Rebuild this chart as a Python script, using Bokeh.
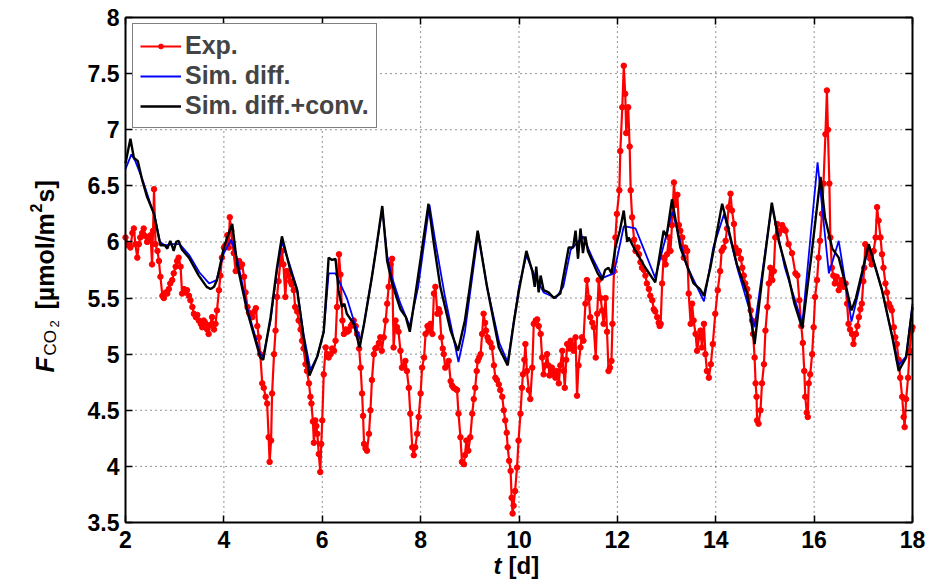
import math
from bokeh.plotting import figure
from bokeh.models import (LinearAxis, Range1d, Legend, LegendItem, Label, FixedTicker)
from bokeh.embed import file_html
from bokeh.resources import INLINE

# ---------------- data ----------------
exp_t = [2.00, 2.06, 2.10, 2.14, 2.17, 2.20, 2.24, 2.27, 2.30, 2.34, 2.37, 2.41, 2.44, 2.48, 2.51, 2.54, 2.56, 2.58,
         2.61, 2.65, 2.68, 2.71, 2.75, 2.78, 2.82, 2.85, 2.88, 2.91, 2.95, 2.98, 3.02, 3.05, 3.08, 3.12, 3.15, 3.19,
         3.22, 3.25, 3.29, 3.32, 3.36, 3.39, 3.43, 3.46, 3.49, 3.53, 3.56, 3.59, 3.62, 3.66, 3.69, 3.72, 3.76, 3.80,
         3.83, 3.86, 3.90, 3.93, 3.96, 4.00, 4.03, 4.07, 4.10, 4.12, 4.15, 4.17, 4.20, 4.24, 4.27, 4.31, 4.34, 4.37,
         4.41, 4.44, 4.48, 4.51, 4.55, 4.58, 4.62, 4.65, 4.68, 4.71, 4.74, 4.78, 4.81, 4.85, 4.88, 4.91, 4.93, 4.96,
         4.98, 5.02, 5.05, 5.08, 5.11, 5.15, 5.18, 5.21, 5.25, 5.28, 5.31, 5.35, 5.38, 5.42, 5.45, 5.49, 5.52, 5.56,
         5.59, 5.62, 5.66, 5.69, 5.73, 5.76, 5.78, 5.81, 5.83, 5.86, 5.88, 5.90, 5.93, 5.96, 5.98, 6.00, 6.03, 6.07,
         6.10, 6.13, 6.17, 6.20, 6.24, 6.27, 6.30, 6.34, 6.37, 6.41, 6.44, 6.48, 6.51, 6.54, 6.58, 6.61, 6.64, 6.68,
         6.71, 6.75, 6.78, 6.81, 6.83, 6.85, 6.88, 6.91, 6.95, 6.98, 7.01, 7.05, 7.08, 7.11, 7.15, 7.18, 7.21, 7.25,
         7.29, 7.32, 7.35, 7.39, 7.42, 7.45, 7.49, 7.52, 7.55, 7.59, 7.62, 7.66, 7.69, 7.72, 7.76, 7.79, 7.83, 7.86,
         7.89, 7.93, 7.96, 8.00, 8.03, 8.07, 8.10, 8.14, 8.17, 8.20, 8.24, 8.27, 8.30, 8.34, 8.37, 8.39, 8.42, 8.45,
         8.47, 8.50, 8.54, 8.57, 8.61, 8.64, 8.67, 8.71, 8.74, 8.77, 8.81, 8.84, 8.88, 8.90, 8.93, 8.97, 9.01, 9.05,
         9.08, 9.11, 9.14, 9.16, 9.19, 9.22, 9.25, 9.28, 9.31, 9.33, 9.36, 9.38, 9.42, 9.45, 9.49, 9.52, 9.55, 9.59,
         9.62, 9.66, 9.69, 9.72, 9.75, 9.77, 9.80, 9.83, 9.85, 9.87, 9.89, 9.92, 9.96, 9.99, 10.03, 10.06, 10.08,
         10.11, 10.13, 10.16, 10.20, 10.23, 10.27, 10.30, 10.34, 10.37, 10.40, 10.44, 10.47, 10.50, 10.54, 10.57,
         10.60, 10.62, 10.65, 10.67, 10.71, 10.74, 10.77, 10.81, 10.84, 10.88, 10.91, 10.93, 10.96, 10.98, 11.02,
         11.05, 11.08, 11.11, 11.15, 11.18, 11.21, 11.25, 11.28, 11.31, 11.35, 11.38, 11.42, 11.45, 11.49, 11.52,
         11.56, 11.59, 11.62, 11.66, 11.69, 11.72, 11.76, 11.79, 11.82, 11.85, 11.88, 11.90, 11.93, 11.96, 11.99,
         12.04, 12.06, 12.10, 12.13, 12.16, 12.18, 12.22, 12.25, 12.27, 12.30, 12.34, 12.37, 12.41, 12.44, 12.47,
         12.50, 12.54, 12.57, 12.60, 12.64, 12.67, 12.71, 12.74, 12.77, 12.81, 12.84, 12.86, 12.88, 12.91, 12.94,
         12.98, 13.01, 13.05, 13.08, 13.11, 13.15, 13.18, 13.22, 13.25, 13.28, 13.32, 13.35, 13.38, 13.42, 13.45,
         13.49, 13.52, 13.55, 13.59, 13.62, 13.66, 13.69, 13.72, 13.76, 13.79, 13.82, 13.86, 13.90, 13.94, 13.99,
         14.04, 14.09, 14.12, 14.16, 14.20, 14.23, 14.26, 14.30, 14.33, 14.37, 14.40, 14.44, 14.47, 14.51, 14.54,
         14.57, 14.60, 14.64, 14.67, 14.71, 14.74, 14.76, 14.79, 14.81, 14.83, 14.84, 14.87, 14.91, 14.94, 14.98,
         15.01, 15.05, 15.08, 15.11, 15.15, 15.18, 15.21, 15.25, 15.28, 15.31, 15.35, 15.38, 15.42, 15.48, 15.55,
         15.62, 15.66, 15.70, 15.74, 15.77, 15.80, 15.82, 15.85, 15.87, 15.89, 15.92, 15.96, 15.99, 16.02, 16.06,
         16.09, 16.12, 16.16, 16.19, 16.23, 16.26, 16.28, 16.31, 16.33, 16.36, 16.39, 16.42, 16.46, 16.50, 16.53,
         16.56, 16.60, 16.64, 16.67, 16.70, 16.73, 16.77, 16.80, 16.85, 16.88, 16.91, 16.94, 16.97, 17.00, 17.02,
         17.04, 17.08, 17.11, 17.14, 17.17, 17.21, 17.25, 17.28, 17.31, 17.35, 17.38, 17.41, 17.45, 17.48, 17.52,
         17.55, 17.58, 17.62, 17.65, 17.68, 17.72, 17.75, 17.79, 17.82, 17.84, 17.87, 17.91, 17.94, 17.98, 18.00]
exp_v = [6.04, 5.97, 5.95, 6.08, 6.12, 5.98, 5.86, 5.98, 6.04, 6.08, 6.12, 6.05, 6.00, 6.02, 6.06, 5.80, 6.10, 6.47,
         5.98, 5.92, 5.83, 5.69, 5.52, 5.50, 5.55, 5.54, 5.58, 5.63, 5.66, 5.72, 5.78, 5.83, 5.86, 5.78, 5.54, 5.58,
         5.55, 5.57, 5.52, 5.48, 5.42, 5.36, 5.33, 5.35, 5.30, 5.27, 5.24, 5.30, 5.28, 5.22, 5.18, 5.26, 5.33, 5.22,
         5.27, 5.39, 5.57, 5.70, 5.86, 5.95, 5.97, 6.06, 5.95, 6.22, 6.10, 6.00, 5.90, 5.74, 5.80, 5.83, 5.78, 5.80,
         5.69, 5.55, 5.42, 5.37, 5.35, 5.33, 5.38, 5.41, 5.25, 5.15, 5.00, 4.74, 4.70, 4.62, 4.56, 4.26, 4.04, 4.23,
         4.65, 5.00, 5.21, 5.51, 5.65, 5.83, 5.92, 5.80, 5.51, 5.74, 5.70, 5.65, 5.62, 5.57, 5.42, 5.38, 5.30, 5.22,
         5.12, 5.05, 4.91, 4.85, 4.74, 4.62, 4.56, 4.40, 4.21, 4.41, 4.36, 4.29, 4.11, 3.95, 4.20, 4.41, 4.82, 5.06,
         5.00, 4.97, 5.00, 5.05, 5.03, 5.12, 5.42, 5.89, 5.71, 5.30, 5.18, 5.22, 5.20, 5.21, 5.25, 5.27, 5.30, 5.25,
         5.18, 5.05, 4.88, 4.65, 4.45, 4.20, 4.16, 4.14, 4.29, 4.50, 4.77, 5.00, 5.05, 5.06, 5.10, 5.15, 5.03, 5.15,
         5.30, 5.45, 5.60, 5.80, 5.85, 5.06, 5.30, 5.24, 5.20, 5.03, 4.88, 4.90, 4.94, 4.85, 4.70, 4.47, 4.17, 4.10,
         4.17, 4.29, 4.44, 4.65, 4.88, 4.97, 5.18, 5.25, 5.21, 5.27, 5.18, 5.54, 5.60, 5.36, 5.40, 5.37, 5.15, 5.05,
         5.00, 4.88, 4.90, 4.94, 4.76, 4.72, 4.70, 4.69, 4.68, 4.47, 4.26, 4.04, 4.02, 4.10, 4.23, 4.14, 4.26, 4.47,
         4.60, 4.70, 4.85, 4.94, 4.97, 5.00, 5.18, 5.36, 5.28, 5.21, 5.15, 5.12, 5.10, 5.06, 4.90, 4.79, 4.77, 4.73,
         4.68, 4.62, 4.50, 4.41, 4.30, 4.17, 4.05, 3.96, 3.72, 3.58, 3.65, 3.78, 3.99, 4.23, 4.47, 4.70, 4.82,
         4.95, 5.09, 4.85, 4.68, 4.60, 4.88, 5.27, 5.30, 5.31, 5.25, 5.18, 4.97, 4.82, 4.90, 5.00,
         4.90, 4.81, 4.85, 4.88, 4.82, 4.79, 4.85, 4.74, 4.90, 5.03, 4.85, 4.70, 4.95, 5.09, 5.05,
         5.12, 5.08, 5.03, 5.15, 4.63, 4.90, 5.06, 5.15, 5.12, 5.45, 5.66, 5.50, 5.33, 5.28, 5.24,
         4.97, 5.36, 5.66, 5.50, 5.39, 5.27, 5.50, 5.20, 4.85, 4.88, 4.94, 5.27, 5.74, 6.04, 6.25,
         6.46, 6.81, 7.20, 7.57, 7.32, 6.97, 7.20, 6.85, 6.46, 6.22, 6.02, 5.92, 5.95, 5.89, 5.82,
         5.77, 5.75, 5.70, 5.63, 5.58, 5.52, 5.48, 5.40, 5.38, 5.33, 5.28, 5.25, 5.27, 5.63, 5.86,
         5.80, 5.89, 6.04, 5.92, 6.15, 6.53, 6.33, 6.42, 6.15, 6.10, 6.04, 5.86, 5.95, 5.92, 5.54,
         5.27, 5.45, 5.30, 5.18, 5.03, 5.15, 5.21, 5.06, 5.27, 5.00, 4.85, 4.79, 4.91, 5.09, 5.36,
         5.57, 5.74, 5.92, 5.95, 6.01, 6.12, 6.31, 6.43, 6.28, 6.16, 5.95, 5.90, 5.92, 5.85, 5.77,
         5.70, 5.63, 5.58, 5.51, 5.39, 5.30, 5.18, 4.97, 4.74, 4.62, 4.41, 4.38, 4.50, 4.74, 4.91,
         5.21, 5.42, 5.63, 5.77, 5.66, 5.74, 6.04, 6.16, 6.07, 6.10, 6.15, 6.12, 6.10, 5.98, 5.90,
         5.72, 5.70, 5.48, 5.25, 5.10, 4.85, 4.62, 4.48, 4.44, 4.74, 4.82, 5.00, 5.24, 5.51, 5.66,
         5.86, 6.01, 6.25, 6.52, 6.96, 7.35, 7.00, 6.52, 6.04, 5.77, 5.70, 5.63, 5.69, 5.57, 5.62,
         5.66, 5.60, 5.63, 5.45, 5.27, 5.22, 5.18, 5.09, 5.18, 5.25, 5.33, 5.40, 5.45, 5.65, 5.77,
         5.98, 5.92, 5.89, 5.85, 5.80, 5.92, 6.04, 6.31, 6.19, 6.04, 5.89, 5.77, 5.63, 5.55, 5.45,
         5.42, 5.39, 5.24, 5.15, 5.09, 4.95, 4.79, 4.62, 4.44, 4.35, 4.60, 4.79, 5.03, 5.21, 5.24]

diff_t = [2.00, 2.12, 2.20, 2.35, 2.50, 2.60, 2.70, 2.80, 2.95, 3.10, 3.30, 3.50, 3.70, 3.85, 4.00, 4.15, 4.27,
          4.47, 4.74, 4.80, 4.95, 5.08, 5.18, 5.35, 5.49, 5.62, 5.76, 5.90, 6.03, 6.13, 6.27, 6.50, 6.64, 6.78,
          6.85, 7.01, 7.10, 7.22, 7.32, 7.42, 7.59, 7.78, 7.95, 8.18, 8.30, 8.50, 8.77, 8.90, 9.17, 9.35, 9.60,
          9.77, 10.00, 10.15, 10.30, 10.50, 10.75, 10.90, 11.05, 11.30, 11.50, 11.70, 11.93, 12.13, 12.37, 12.77,
          13.12, 13.40, 13.76, 13.95, 14.17, 14.45, 14.79, 15.14, 15.40, 15.76, 16.07, 16.30, 16.50, 16.76, 16.90,
          17.11, 17.38, 17.72, 17.87, 18.00]
diff_v = [6.65, 6.78, 6.72, 6.55, 6.35, 6.22, 6.00, 5.97, 5.98, 5.98, 5.88, 5.73, 5.63, 5.66, 5.90, 6.02, 5.85,
          5.42, 5.00, 4.98, 5.30, 5.75, 6.00, 5.78, 5.58, 5.18, 4.86, 4.98, 5.20, 5.72, 5.72, 5.50, 5.30, 5.12,
          5.27, 5.69, 5.95, 6.30, 5.88, 5.68, 5.45, 5.25, 5.60, 6.33, 6.00, 5.50, 4.93, 5.20, 6.08, 5.60, 5.10,
          4.93, 5.60, 5.88, 5.72, 5.55, 5.50, 5.60, 5.93, 6.05, 5.85, 5.68, 5.72, 6.14, 6.12, 5.68,
          6.27, 5.80, 5.47, 5.95, 6.25, 5.75, 5.24, 6.33, 5.78, 5.27, 6.71, 5.72, 6.01, 5.29, 5.55,
          5.98, 5.57, 4.90, 4.98, 5.45]

conv_t = [2.00, 2.10, 2.17, 2.25, 2.34, 2.44, 2.58, 2.71, 2.80, 2.85, 2.91, 2.95, 2.98, 3.03, 3.08, 3.12, 3.15,
          3.29, 3.49, 3.65, 3.73, 3.80, 3.86, 4.00, 4.10, 4.17, 4.27, 4.47, 4.74, 4.80, 4.95, 5.08, 5.18, 5.35,
          5.49, 5.62, 5.74, 5.90, 6.03, 6.13, 6.20, 6.27, 6.33, 6.40, 6.45, 6.50, 6.64, 6.76, 6.85, 7.01, 7.10,
          7.22, 7.32, 7.42, 7.59, 7.70, 7.78, 7.90, 8.00, 8.16, 8.27, 8.40, 8.61, 8.76, 8.90, 9.00, 9.16, 9.35,
          9.59, 9.77, 9.90, 10.00, 10.15, 10.27, 10.32, 10.35, 10.40, 10.44, 10.50, 10.60, 10.71, 10.84, 11.01,
          11.10, 11.15, 11.20, 11.25, 11.30, 11.35, 11.40, 11.49, 11.60, 11.69, 11.75, 11.82, 11.88, 11.96, 12.05,
          12.13, 12.20, 12.23, 12.37, 12.57, 12.77, 12.94, 13.00, 13.11, 13.28, 13.55, 13.68, 13.76, 13.89, 14.05,
          14.13, 14.20, 14.43, 14.64, 14.79, 14.95, 15.14, 15.28, 15.48, 15.60, 15.76, 15.95, 16.13, 16.22, 16.37,
          16.50, 16.65, 16.76, 16.85, 17.11, 17.38, 17.59, 17.72, 17.87, 18.00]
conv_v = [6.70, 6.92, 6.75, 6.72, 6.55, 6.40, 6.25, 5.97, 5.97, 5.94, 6.01, 5.96, 5.92, 6.00, 6.01, 5.96, 5.93,
          5.86, 5.70, 5.60, 5.58, 5.60, 5.66, 5.95, 6.08, 6.16, 5.80, 5.39, 4.97, 4.95, 5.33, 5.77, 6.05, 5.75,
          5.57, 5.15, 4.81, 4.98, 5.20, 5.86, 5.84, 5.85, 5.57, 5.42, 5.45, 5.36, 5.27, 5.06, 5.27, 5.69, 5.95,
          6.32, 5.83, 5.63, 5.40, 5.33, 5.20, 5.55, 5.85, 6.34, 5.98, 5.60, 5.21, 5.03, 5.30, 5.60, 6.10, 5.60,
          5.06, 4.90, 5.30, 5.57, 5.92, 5.74, 5.60, 5.78, 5.55, 5.70, 5.57, 5.55, 5.50, 5.54, 5.95,
          5.95, 6.10, 5.85, 6.12, 5.90, 6.05, 5.92, 5.83, 5.72, 5.66, 5.75, 5.77, 5.72, 5.95, 6.10,
          6.28, 6.00, 6.04, 5.92, 5.77, 5.64, 6.10, 6.05, 6.38, 5.95, 5.63, 5.58, 5.52, 5.77, 6.15,
          6.34, 6.22, 5.80, 5.54, 5.09, 5.70, 6.35, 6.01, 5.69, 5.45, 5.23, 5.90, 6.58, 6.22, 5.94,
          5.86, 5.60, 5.39, 5.50, 5.98, 5.57, 5.15, 4.85, 4.97, 5.42]

x_ticks = [2, 4, 6, 8, 10, 12, 14, 16, 18]
y_ticks = [3.5, 4, 4.5, 5, 5.5, 6, 6.5, 7, 7.5, 8]
y_tick_labels = ["3.5", "4", "4.5", "5", "5.5", "6", "6.5", "7", "7.5", "8"]
X_LIM = (2, 18)
Y_LIM = (3.5, 8)

FONT = "Liberation Sans"
W, H = 926, 584
# plot-box edges in pixels (left, right, top, bottom)
BOX_L, BOX_R, BOX_T, BOX_B = 125, 912, 17, 522
sx = (BOX_R - BOX_L) / (X_LIM[1] - X_LIM[0])
sy = (BOX_B - BOX_T) / (Y_LIM[1] - Y_LIM[0])
x_rng = Range1d(X_LIM[0] - BOX_L / sx, X_LIM[1] + (W - BOX_R) / sx)
y_rng = Range1d(Y_LIM[0] - (H - BOX_B) / sy, Y_LIM[1] + BOX_T / sy)

p = figure(width=W, height=H, x_range=x_rng, y_range=y_rng,
           output_backend="svg", toolbar_location=None,
           x_axis_location=None, y_axis_location=None,
           min_border=0, min_border_left=0, min_border_right=0, min_border_top=0, min_border_bottom=0)
p.outline_line_color = None
p.background_fill_color = "white"
p.border_fill_color = "white"
for g in p.grid:
    g.visible = False

def make_axis(side, ticks, fixed, bounds, show_labels):
    ax = LinearAxis(ticker=FixedTicker(ticks=ticks), fixed_location=fixed, bounds=bounds)
    ax.axis_line_width = 2
    ax.axis_line_color = "black"
    ax.major_tick_in = 7
    ax.major_tick_out = 0
    ax.major_tick_line_width = 1.5
    ax.major_tick_line_color = "black"
    ax.minor_tick_line_color = None
    ax.major_label_text_font = FONT
    ax.major_label_text_font_style = "bold"
    ax.major_label_text_font_size = "23px"
    if show_labels:
        ax.major_label_text_color = "black"
    else:
        ax.major_label_text_color = None
    p.add_layout(ax, side)
    return ax

# dotted grid (drawn first, below the data)
n_x = len(x_ticks)
n_y = len(y_ticks)
p.segment(x0=x_ticks, y0=[Y_LIM[0]] * n_x, x1=x_ticks, y1=[Y_LIM[1]] * n_x,
          line_color="black", line_alpha=0.85, line_width=1, line_dash="1 4")
p.segment(x0=[X_LIM[0]] * n_y, y0=y_ticks, x1=[X_LIM[1]] * n_y, y1=y_ticks,
          line_color="black", line_alpha=0.85, line_width=1, line_dash="1 4")

# series
r_exp_l = p.line(exp_t, exp_v, line_color="#ff0000", line_width=2.2)
r_exp_m = p.scatter(exp_t, exp_v, marker="circle", size=5.5, fill_color="#ff0000", line_color="#ff0000")
r_diff = p.line(diff_t, diff_v, line_color="#0000ff", line_width=1.8)
r_conv = p.line(conv_t, conv_v, line_color="black", line_width=2.4)

# axes (box style, ticks inside)
xa = make_axis("below", x_ticks, Y_LIM[0], X_LIM, True)
ya = make_axis("left", y_ticks, X_LIM[0], Y_LIM, True)
xa.major_label_standoff = 8
ya.major_label_standoff = 6
ya.major_label_overrides = {float(t): s for t, s in zip(y_ticks, y_tick_labels)}
make_axis("above", x_ticks, Y_LIM[1], X_LIM, False)
make_axis("right", y_ticks, X_LIM[1], Y_LIM, False)

legend = Legend(items=[
    LegendItem(label="Exp.", renderers=[r_exp_l, r_exp_m]),
    LegendItem(label="Sim. diff.", renderers=[r_diff]),
    LegendItem(label="Sim. diff.+conv.", renderers=[r_conv]),
], location=(132, H - 128))
legend.padding = 7
legend.spacing = 1
legend.glyph_width = 41
legend.glyph_height = 12
legend.label_height = 29
legend.label_standoff = 4
legend.label_text_font = FONT
legend.label_text_font_style = "bold"
legend.label_text_font_size = "25px"
legend.label_text_baseline = "middle"
legend.border_line_color = "black"
legend.border_line_width = 1
legend.background_fill_alpha = 1
p.add_layout(legend)

# axis titles, positioned in screen pixels from the bottom-left corner
def lab(text, x, y, size, style="bold", angle=0.0):
    p.add_layout(Label(text=text, x=x, y=y, x_units="screen", y_units="screen",
                       angle=angle, text_font=FONT, text_font_style=style,
                       text_font_size=size, text_color="black",
                       text_align="left", text_baseline="alphabetic"))

# x label: "t [d]"
lab("t", 493, 19, "24px", "bold italic")
lab("[d]", 508, 19, "24px")

# y label: F_CO2 [µmol/m^2 s]
A = math.pi / 2
lab("F", 44, H - 372, "25px", "bold italic", A)
lab("CO", 50, H - 355, "17px", "normal", A)
lab("2", 54, H - 327, "13px", "normal", A)
lab("[µmol/m", 44, H - 309, "25px", "bold", A)
lab("2", 35, H - 212, "16px", "bold", A)
lab("s]", 44, H - 202, "25px", "bold", A)

open("out.html", "w").write(file_html(p, INLINE))
